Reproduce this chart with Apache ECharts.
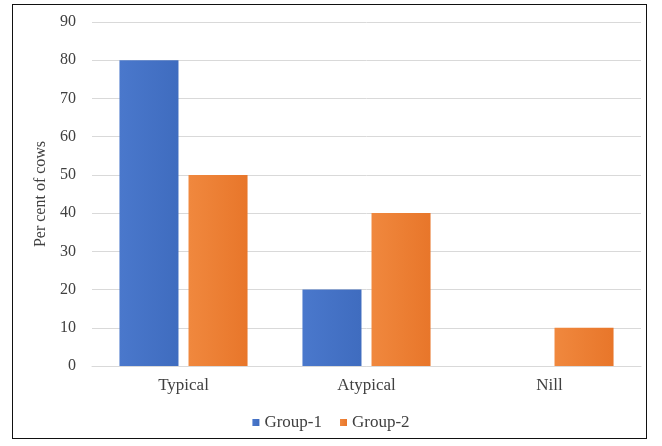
<!DOCTYPE html>
<html>
<head>
<meta charset="utf-8">
<script src="https://cdn.jsdelivr.net/npm/echarts@6/dist/echarts.min.js"></script>
<style>
html,body{margin:0;padding:0;background:#fff;}
#frame{position:absolute;left:12px;top:4px;width:635px;height:435px;border:1.5px solid #111;box-sizing:border-box;}
#chart{position:absolute;left:0;top:0;width:662px;height:446px;}
</style>
</head>
<body>
<div id="frame"></div>
<div id="chart"></div>
<script>
const categories = ['Typical', 'Atypical', 'Nill'];
const group1 = [80, 20, 0];
const group2 = [50, 40, 10];
const seriesNames = ['Group-1', 'Group-2'];
const yTicks = { min: 0, max: 90, interval: 10 };

const chart = echarts.init(document.getElementById('chart'), null, { renderer: 'canvas' });
const font = '"Liberation Serif", "Times New Roman", serif';
chart.setOption({
  animation: false,
  textStyle: { fontFamily: font },
  grid: { left: 92, right: 21, top: 22, bottom: 80 },
  legend: {
    bottom: 10,
    left: 'center',
    itemWidth: 7,
    itemHeight: 7,
    itemGap: 18,
    icon: 'rect',
    textStyle: { fontFamily: font, fontSize: 17, color: '#404040' },
    data: seriesNames
  },
  xAxis: {
    type: 'category',
    data: categories,
    axisLine: { show: true, lineStyle: { color: '#d9d9d9' } },
    axisTick: { show: false },
    axisLabel: { fontFamily: font, fontSize: 17, color: '#404040', margin: 11 }
  },
  yAxis: {
    type: 'value',
    min: yTicks.min, max: yTicks.max, interval: yTicks.interval,
    name: 'Per cent of cows',
    nameLocation: 'middle',
    nameGap: 31,
    nameRotate: 90,
    nameTextStyle: { fontFamily: font, fontSize: 16, color: '#404040' },
    axisLine: { show: false },
    axisTick: { show: false },
    axisLabel: { fontFamily: font, fontSize: 16, color: '#404040', margin: 16 },
    splitLine: { lineStyle: { color: '#d9d9d9' } }
  },
  series: [
    {
      name: seriesNames[0], type: 'bar', data: group1,
      barGap: '17%', barCategoryGap: '30%',
      itemStyle: { color: new echarts.graphic.LinearGradient(0,0,1,0,[{offset:0,color:'#4a78cc'},{offset:1,color:'#3f6cbf'}]) }
    },
    {
      name: seriesNames[1], type: 'bar', data: group2,
      barGap: '17%', barCategoryGap: '30%',
      itemStyle: { color: new echarts.graphic.LinearGradient(0,0,1,0,[{offset:0,color:'#f0883e'},{offset:1,color:'#e8762a'}]) }
    }
  ]
});
</script>
</body>
</html>
